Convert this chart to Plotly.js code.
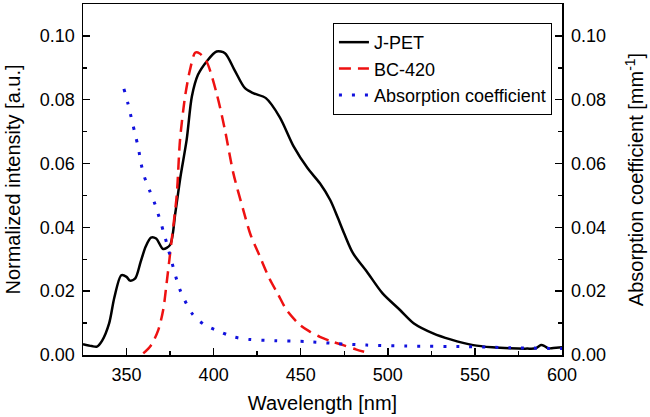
<!DOCTYPE html>
<html>
<head>
<meta charset="utf-8">
<script src="https://cdn.plot.ly/plotly-3.0.1.min.js"></script>
<style>html,body{margin:0;padding:0;background:#fff;}#chart{width:650px;height:417px;}</style>
</head>
<body>
<div id="chart"></div>
<script>
// J-PET emission spectrum
const jpetWavelength = [325, 330, 333, 336, 340, 343, 347, 350, 352, 355, 358, 361, 364, 367, 371, 375, 378, 381, 384.5, 387.5, 391, 396, 401.7, 406.5, 412, 418, 423, 430, 438, 446, 454, 461, 467, 471, 475, 480, 488, 497, 507, 515, 526, 536, 549, 560, 570, 580, 585, 588, 590, 592, 595, 600];
const jpetIntensity = [0.0034, 0.0028, 0.0026, 0.0045, 0.0099, 0.018, 0.025, 0.0245, 0.0233, 0.024, 0.029, 0.034, 0.0368, 0.0365, 0.0332, 0.0345, 0.0445, 0.056, 0.0674, 0.081, 0.0878, 0.092, 0.0951, 0.0946, 0.0893, 0.0836, 0.082, 0.0805, 0.0745, 0.0653, 0.0585, 0.0538, 0.0485, 0.0434, 0.038, 0.0319, 0.0261, 0.0193, 0.0141, 0.0099, 0.0068, 0.0049, 0.0031, 0.0024, 0.0021, 0.0020, 0.0021, 0.0031, 0.0028, 0.0021, 0.0022, 0.0024];

// BC-420 emission spectrum
const bcWavelength = [359.6, 364, 368.2, 371, 373, 375.9, 378.8, 380.7, 383.6, 386.4, 389.5, 392, 396, 401.7, 406.5, 411.3, 417, 421, 426.6, 432, 437, 442, 449.6, 455, 461, 468, 474.4, 482, 489.8];
const bcIntensity = [0.0005, 0.003, 0.0078, 0.014, 0.0225, 0.036, 0.050, 0.0674, 0.081, 0.0893, 0.0948, 0.0945, 0.0919, 0.082, 0.0705, 0.057, 0.0455, 0.038, 0.0308, 0.024, 0.019, 0.014, 0.0094, 0.0074, 0.0057, 0.0042, 0.0031, 0.0017, 0.0005];

// Absorption coefficient
const absWavelength = [348.5, 351, 353, 354.9, 356.8, 358.3, 360.2, 363.5, 366.3, 371.5, 375.9, 380.7, 388.3, 395, 403.6, 411.3, 419.9, 435, 453.4, 470, 487.9, 510, 545, 570, 600];
const absCoefficient = [0.0834, 0.0784, 0.0737, 0.0693, 0.0648, 0.0601, 0.0559, 0.0512, 0.0473, 0.0381, 0.0293, 0.0204, 0.0125, 0.0094, 0.0073, 0.0057, 0.0049, 0.0045, 0.0042, 0.0036, 0.0031, 0.0028, 0.0026, 0.0023, 0.0020];

const xTickVals = [350, 400, 450, 500, 550, 600];
const yTickVals = [0.00, 0.02, 0.04, 0.06, 0.08, 0.10];

const FONT = 'Liberation Sans, Arial, sans-serif';

const traces = [
  {x: jpetWavelength, y: jpetIntensity, name: 'J-PET', mode: 'lines',
   line: {color: '#000000', width: 2.5, shape: 'spline', smoothing: 0.8}},
  {x: bcWavelength, y: bcIntensity, name: 'BC-420', mode: 'lines',
   line: {color: '#ee1111', width: 2.5, dash: '12px,7px', shape: 'spline', smoothing: 0.8}},
  {x: absWavelength, y: absCoefficient, name: 'Absorption coefficient', mode: 'lines', yaxis: 'y2',
   line: {color: '#1111dd', width: 3, dash: '3px,10px', shape: 'spline', smoothing: 0.8}}
];

const minorTicks = {ticks: 'inside', ticklen: 4, tickwidth: 1.5, tickcolor: '#000'};

const axisCommon = {
  showgrid: false, zeroline: false, showline: true, linecolor: '#000', linewidth: 1.5,
  ticks: 'inside', ticklen: 7, tickwidth: 1.5, tickcolor: '#000',
  tickfont: {family: FONT, size: 18, color: '#000'}
};

const layout = {
  width: 650, height: 417,
  margin: {l: 83, r: 88, t: 4, b: 62},
  paper_bgcolor: '#fff', plot_bgcolor: '#fff',
  font: {family: FONT, color: '#000'},
  showlegend: true,
  legend: {x: 0.979, y: 0.946, xanchor: 'right', yanchor: 'top',
           bgcolor: '#fff', bordercolor: '#000', borderwidth: 1,
           font: {family: FONT, size: 18, color: '#000'}, tracegroupgap: 0},
  xaxis: Object.assign({}, axisCommon, {
    range: [325, 600], tickvals: xTickVals, mirror: true, ticklabelstandoff: 3,
    minor: Object.assign({dtick: 25, tick0: 325}, minorTicks),
    title: {text: 'Wavelength [nm]', font: {family: FONT, size: 20, color: '#000'}, standoff: 12}
  }),
  yaxis: Object.assign({}, axisCommon, {
    range: [0, 0.11], tickvals: yTickVals, tickformat: '.2f', ticklabelstandoff: 3,
    minor: Object.assign({dtick: 0.01, tick0: 0}, minorTicks),
    title: {text: 'Normalized intensity [a.u.]', font: {family: FONT, size: 20, color: '#000'}, standoff: 14}
  }),
  yaxis2: Object.assign({}, axisCommon, {
    range: [0, 0.11], tickvals: yTickVals, tickformat: '.2f', ticklabelstandoff: 4,
    overlaying: 'y', side: 'right',
    minor: Object.assign({dtick: 0.01, tick0: 0}, minorTicks),
    title: {text: 'Absorption coefficient [mm<sup>-1</sup>]', font: {family: FONT, size: 20, color: '#000'}, standoff: 24}
  })
};

Plotly.newPlot('chart', traces, layout, {staticPlot: true, displayModeBar: false});
</script>
</body>
</html>
